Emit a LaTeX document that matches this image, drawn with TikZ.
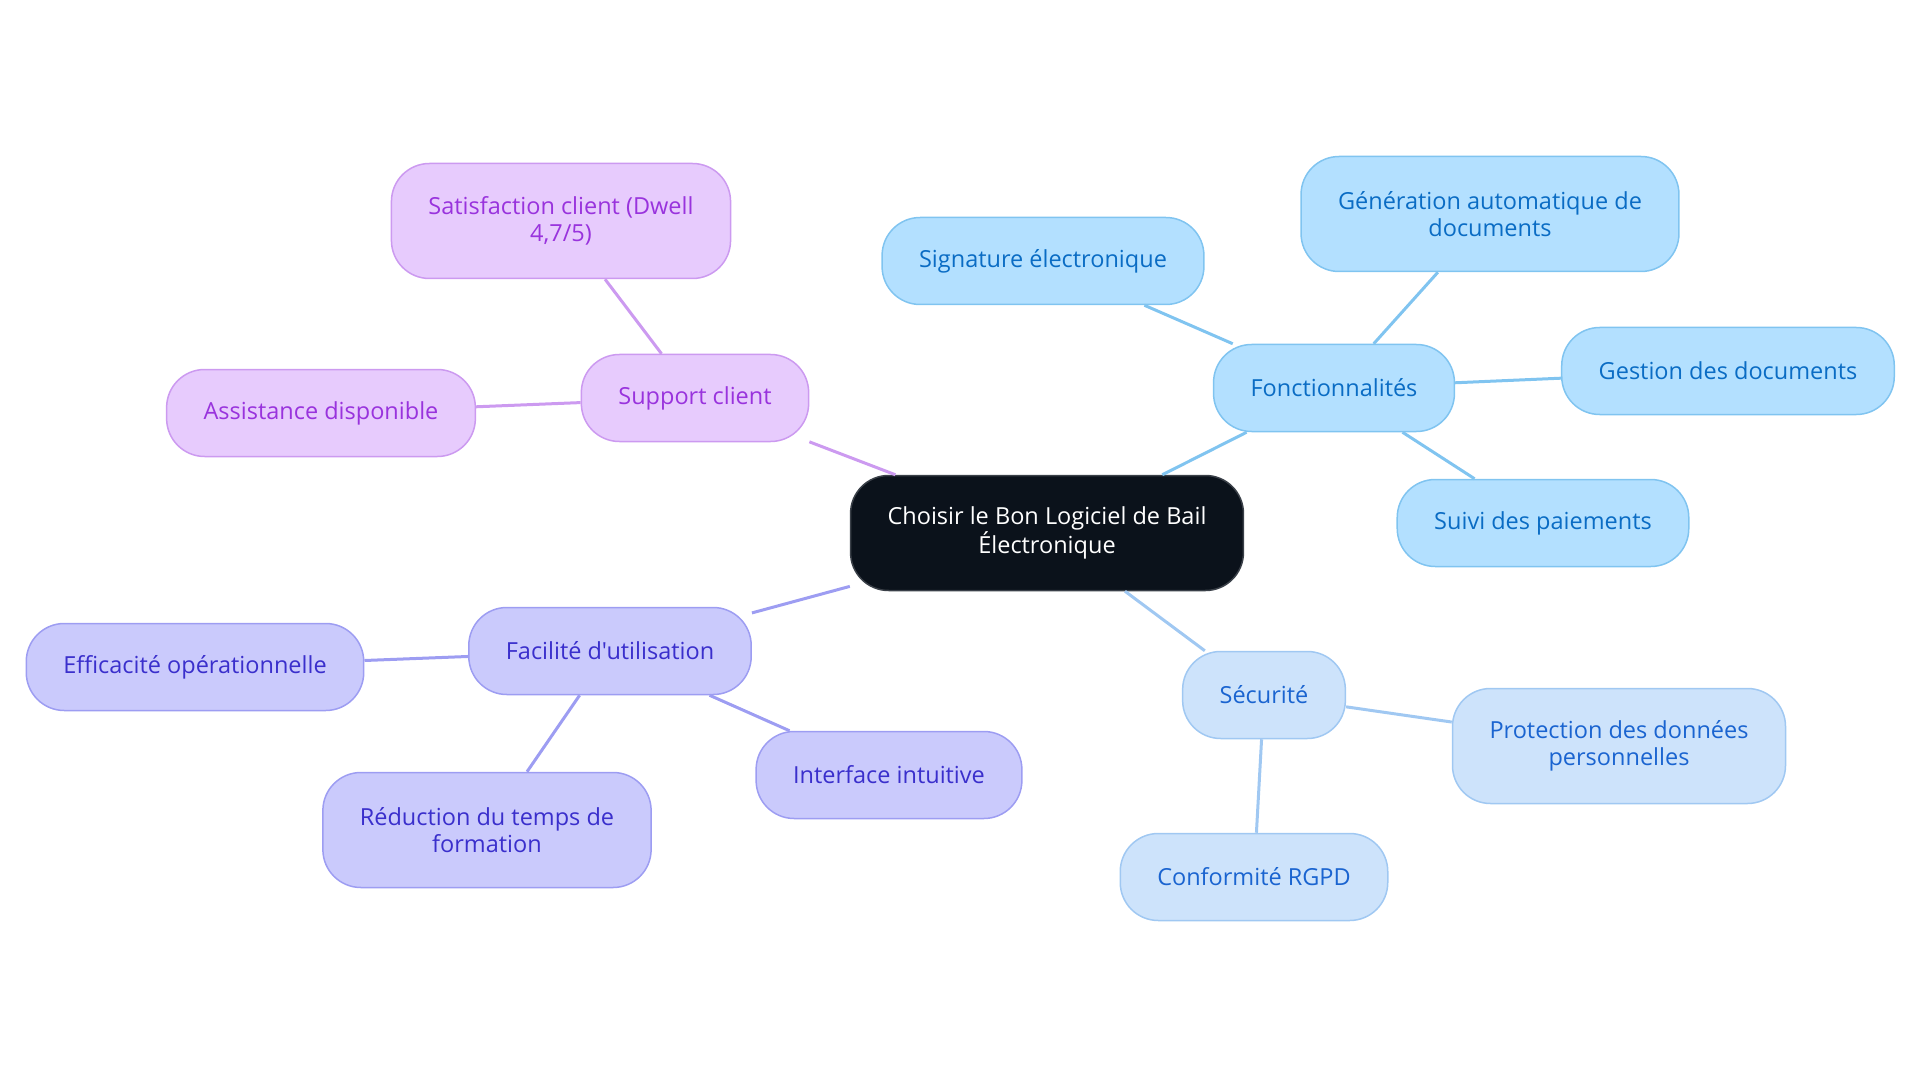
\documentclass[tikz,border=0pt]{standalone}
\usepackage{fontspec}
\newfontfamily\bubblefont{Open Sans}
\usepackage{xcolor}
\usepackage{tikz}
\usetikzlibrary{positioning, shapes, calc}
\definecolor{rootfill}{HTML}{0B121B}
\definecolor{rootdraw}{HTML}{3A4048}
\definecolor{fonfill}{HTML}{B3E0FF}
\definecolor{fondraw}{HTML}{80C4F0}
\definecolor{fontext}{HTML}{0A6CC4}
\definecolor{secfill}{HTML}{CDE3FB}
\definecolor{secdraw}{HTML}{A0C8F2}
\definecolor{sectext}{HTML}{1A64D0}
\definecolor{facfill}{HTML}{CACAFC}
\definecolor{facdraw}{HTML}{9D9DF2}
\definecolor{factext}{HTML}{3A2FCC}
\definecolor{supfill}{HTML}{E7CBFD}
\definecolor{supdraw}{HTML}{CC9AF0}
\definecolor{suptext}{HTML}{9933DD}

\begin{document}
\begin{tikzpicture}[x=1pt, y=-1pt, every node/.style={font=\bubblefont\fontsize{23.5}{27}\selectfont}]
	\useasboundingbox (0,0) rectangle (1920,1083);
	
	\tikzstyle{bubble}=[rounded corners=38pt, minimum height=87pt, inner xsep=37pt, inner ysep=28pt, align=center, line width=1.5pt]
	\tikzstyle{tall}=[minimum height=115pt]
	\tikzstyle{root}=[bubble, tall, draw=rootdraw, fill=rootfill, text=white]
	\tikzstyle{fon}=[bubble, draw=fondraw, fill=fonfill, text=fontext]
	\tikzstyle{sec}=[bubble, draw=secdraw, fill=secfill, text=sectext]
	\tikzstyle{fac}=[bubble, draw=facdraw, fill=facfill, text=factext]
	\tikzstyle{sup}=[bubble, draw=supdraw, fill=supfill, text=suptext]
	\tikzstyle{link}=[line width=3pt]
	
	\node [root] (C) at (1047,533) {Choisir le Bon Logiciel de Bail\\Électronique};
	
	%% Fonctionnalités
	\node [fon] (F) at (1334,388) {Fonctionnalités};
	\node [fon] (F1) at (1043,261) {Signature électronique};
	\node [fon, tall] (F2) at (1490,214) {Génération automatique de\\documents};
	\node [fon] (F3) at (1728,371) {Gestion des documents};
	\node [fon] (F4) at (1543,523) {Suivi des paiements};
	
	%% Sécurité
	\node [sec] (S) at (1264,695) {Sécurité};
	\node [sec, tall] (S1) at (1619,746) {Protection des données\\personnelles};
	\node [sec] (S2) at (1254,877) {Conformité RGPD};
	
	%% Facilité d'utilisation
	\node [fac] (U) at (610,651) {Facilité d'utilisation};
	\node [fac] (U1) at (195,667) {Efficacité opérationnelle};
	\node [fac, tall] (U2) at (487,830) {Réduction du temps de\\formation};
	\node [fac] (U3) at (889,775) {Interface intuitive};
	
	%% Support client
	\node [sup] (P) at (695,398) {Support client};
	\node [sup] (P1) at (321,413) {Assistance disponible};
	\node [sup, tall] (P2) at (561,221) {Satisfaction client (Dwell\\4,7/5)};
	
	\draw [link, fondraw] (C) -- (F);
	\draw [link, fondraw] (F) -- (F1);
	\draw [link, fondraw] (F) -- (F2);
	\draw [link, fondraw] (F) -- (F3);
	\draw [link, fondraw] (F) -- (F4);
	
	\draw [link, secdraw] (C) -- (S);
	\draw [link, secdraw] (S) -- (S1);
	\draw [link, secdraw] (S) -- (S2);
	
	\draw [link, facdraw] (C) -- (U);
	\draw [link, facdraw] (U) -- (U1);
	\draw [link, facdraw] (U) -- (U2);
	\draw [link, facdraw] (U) -- (U3);
	
	\draw [link, supdraw] (C) -- (P);
	\draw [link, supdraw] (P) -- (P1);
	\draw [link, supdraw] (P) -- (P2);
\end{tikzpicture}
\end{document}
